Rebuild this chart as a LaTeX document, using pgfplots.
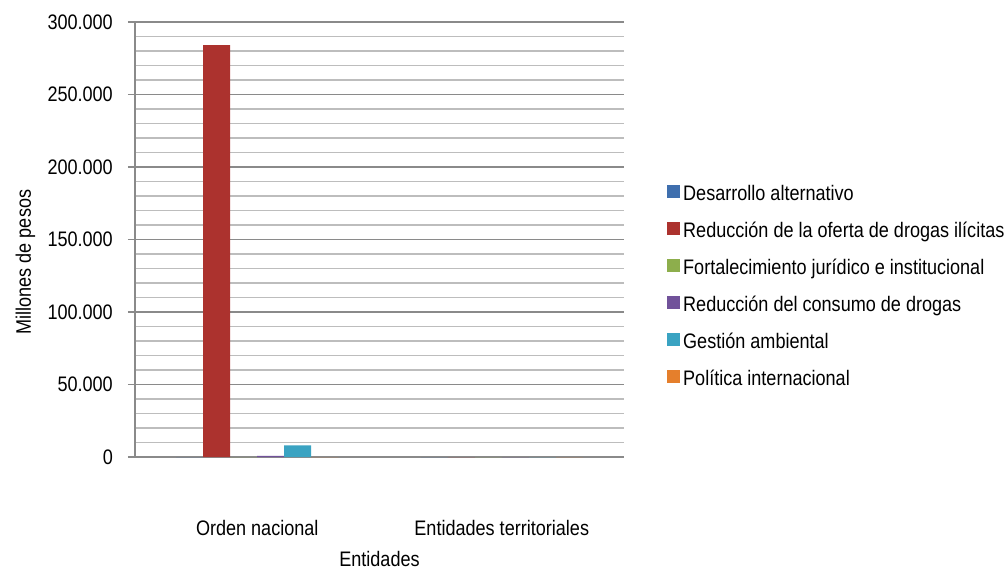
\documentclass[border=0pt]{standalone}
\usepackage{pgfplots}
\pgfplotsset{compat=1.18}
\usepackage{fontspec}
\setmainfont[FakeStretch=0.86]{Liberation Sans}

\definecolor{cblue}{HTML}{3F6FAE}
\definecolor{cred}{HTML}{AC322E}
\definecolor{cgreen}{HTML}{8DAE4C}
\definecolor{cpurple}{HTML}{71529A}
\definecolor{cteal}{HTML}{3AA3C2}
\definecolor{corange}{HTML}{E57F2C}
\definecolor{gmaj}{HTML}{8A8A8A}
\definecolor{gmin}{HTML}{BDBDBD}

\begin{document}
\begin{tikzpicture}
\useasboundingbox (-135bp,-114bp) rectangle (871bp,457bp);
\begin{axis}[
  scale only axis,
  width=489bp, height=435bp,
  font=\fontsize{21bp}{25bp}\selectfont,
  ybar=0pt, bar width=27bp,
  xmin=-0.5, xmax=1.5,
  ymin=0, ymax=300000,
  axis x line*=bottom, axis y line*=left,
  axis line style={color=gmaj, line width=1.5bp},
  xtick={0,1},
  xticklabels={Orden nacional, Entidades territoriales},
  xticklabel style={anchor=base, yshift=-71bp},
  major x tick style={draw=none},
  ytick={0,50000,...,300000},
  minor ytick={0,10000,...,300000},
  tick align=outside,
  major tick length=7bp, minor tick length=0pt,
  major tick style={color=gmaj, line width=1.5bp},
  ymajorgrids, yminorgrids,
  major grid style={color=gmaj, line width=1.5bp},
  minor grid style={color=gmin, line width=1.5bp},
  scaled y ticks=false,
  yticklabel style={/pgf/number format/fixed, /pgf/number format/1000 sep={.},
    /pgf/number format/assume math mode=true,
    anchor=east, inner sep=0pt, xshift=-15bp},
  xlabel={Entidades},
  xlabel style={at={(axis description cs:0.5,-0.252)}, anchor=base},
  ylabel={Millones de pesos},
  ylabel style={at={(axis description cs:-0.2127,0.448)}, anchor=base},
  every axis plot/.append style={draw=none,
    legend image code/.code={\fill[##1] (0bp,-2bp) rectangle (13bp,11bp); \path (16bp,0bp);}},
  legend style={at={(1.0818,0.39)}, anchor=west, draw=none, fill=none,
    row sep=17bp, nodes={inner sep=0pt, text height=14bp, text depth=4bp}},
  legend cell align=left,
]
\addplot[fill=cblue] coordinates {(0,0) (1,0)};
\addlegendentry{Desarrollo alternativo}
\addplot[fill=cred] coordinates {(0,284000) (1,0)};
\addlegendentry{Reducción de la oferta de drogas ilícitas}
\addplot[fill=cgreen] coordinates {(0,0) (1,0)};
\addlegendentry{Fortalecimiento jurídico e institucional}
\addplot[fill=cpurple] coordinates {(0,800) (1,0)};
\addlegendentry{Reducción del consumo de drogas}
\addplot[fill=cteal] coordinates {(0,8000) (1,0)};
\addlegendentry{Gestión ambiental}
\addplot[fill=corange] coordinates {(0,0) (1,0)};
\addlegendentry{Política internacional}
\end{axis}
\end{tikzpicture}
\end{document}
